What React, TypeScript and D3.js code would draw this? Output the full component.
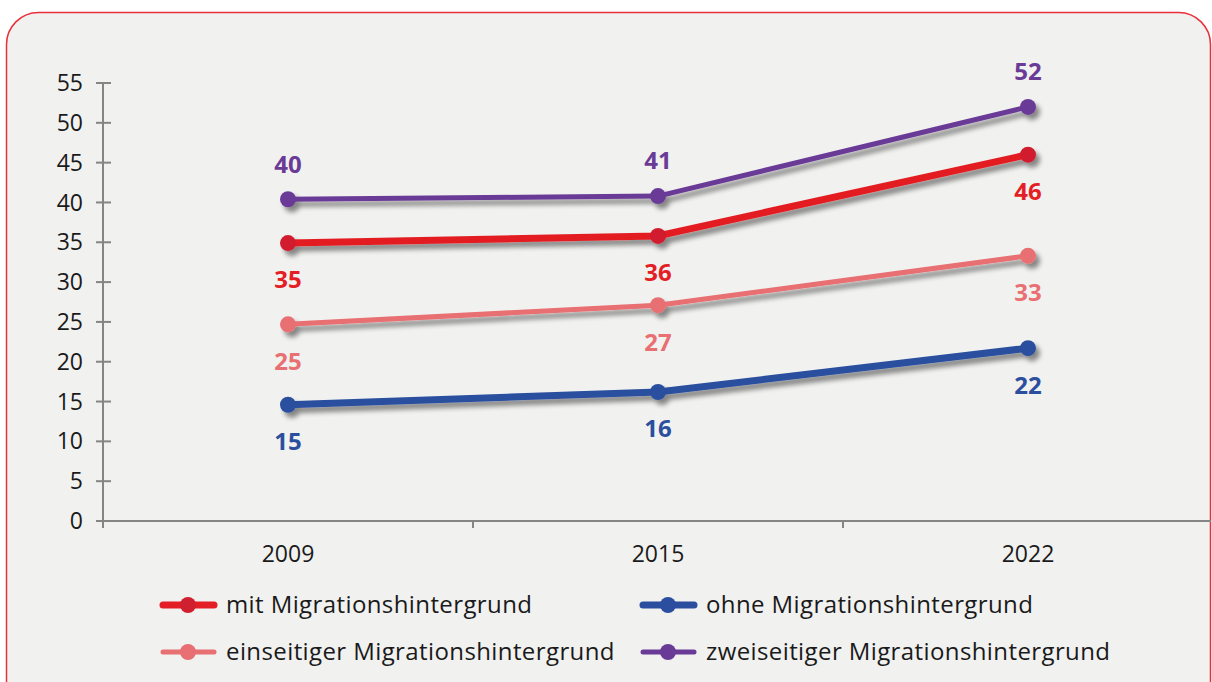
import React from "react";
import * as d3 from "d3";

const years = ["2009", "2015", "2022"];
const seriesNames = [
  "mit Migrationshintergrund",
  "ohne Migrationshintergrund",
  "einseitiger Migrationshintergrund",
  "zweiseitiger Migrationshintergrund",
];
const mitValues = [34.9, 35.8, 46];
const ohneValues = [14.6, 16.2, 21.7];
const einValues = [24.7, 27.1, 33.3];
const zweiValues = [40.4, 40.8, 52];
const mitLabels = ["35", "36", "46"];
const ohneLabels = ["15", "16", "22"];
const einLabels = ["25", "27", "33"];
const zweiLabels = ["40", "41", "52"];
const yTicks = [0, 5, 10, 15, 20, 25, 30, 35, 40, 45, 50, 55];

const FONT = "'Open Sans', 'Noto Sans', sans-serif";

export default function App() {
  const W = 1212, H = 682;
  const x = d3.scaleBand<string>().domain(years).range([103, 1213]);
  const y = d3.scaleLinear().domain([0, 55]).range([521, 83]);
  const line = d3
    .line<number>()
    .x((_, i) => (x(years[i]) as number) + x.bandwidth() / 2)
    .y((d) => y(d));

  const series = [
    { name: seriesNames[0], vals: mitValues, labels: mitLabels, color: "#e31e24", dot: "#d01f2e", width: 7, above: false },
    { name: seriesNames[1], vals: ohneValues, labels: ohneLabels, color: "#2b4f9e", dot: "#2b4f9e", width: 7, above: false },
    { name: seriesNames[2], vals: einValues, labels: einLabels, color: "#e86f72", dot: "#e86f72", width: 5, above: false },
    { name: seriesNames[3], vals: zweiValues, labels: zweiLabels, color: "#6a3b96", dot: "#6a3b96", width: 5, above: true },
  ];
  const drawOrder = [1, 2, 0, 3];

  const legendPos = [
    { x: 160, y: 605 },
    { x: 640, y: 605 },
    { x: 160, y: 652 },
    { x: 640, y: 652 },
  ];

  return (
    <svg width={W} height={H} style={{ position: "absolute", left: 0, top: 0, display: "block" }}>
      <defs>
        <filter id="sh" x="-20%" y="-50%" width="140%" height="200%">
          <feGaussianBlur in="SourceAlpha" stdDeviation="2.5" />
          <feOffset dx="4" dy="5" result="b" />
          <feComponentTransfer>
            <feFuncA type="linear" slope="0.45" />
          </feComponentTransfer>
          <feMerge>
            <feMergeNode />
            <feMergeNode in="SourceGraphic" />
          </feMerge>
        </filter>
      </defs>
      <rect x={0} y={0} width={W} height={H} fill="#ffffff" />
      <rect x={6.5} y={12.5} width={1204} height={720} rx={32} ry={32} fill="#f1f1f0" stroke="#e8303a" strokeWidth={1.5} />

      {/* y axis */}
      <line x1={103} x2={103} y1={y(55)} y2={y(0)} stroke="#858585" strokeWidth={2} />
      {yTicks.map((t) => (
        <g key={t}>
          <line x1={96} x2={111} y1={y(t)} y2={y(t)} stroke="#858585" strokeWidth={2} />
          <text x={83} y={y(t)} dy="0.35em" textAnchor="end" fontFamily={FONT} fontSize={23} fill="#1a1a1a">
            {t}
          </text>
        </g>
      ))}
      {/* x axis */}
      <line x1={96} x2={1211} y1={y(0)} y2={y(0)} stroke="#858585" strokeWidth={2} />
      {years.map((yr) => (
        <g key={yr}>
          <line x1={x(yr) as number} x2={x(yr) as number} y1={y(0)} y2={y(0) + 7} stroke="#858585" strokeWidth={2} />
          <text x={(x(yr) as number) + x.bandwidth() / 2} y={562} textAnchor="middle" fontFamily={FONT} fontSize={23} fill="#1a1a1a">
            {yr}
          </text>
        </g>
      ))}

      {drawOrder.map((si) => {
        const s = series[si];
        return (
          <g key={s.name} filter="url(#sh)">
            <path d={line(s.vals) || ""} fill="none" stroke={s.color} strokeWidth={s.width} strokeLinejoin="round" strokeLinecap="round" />
            {s.vals.map((v, i) => (
              <circle key={i} cx={(x(years[i]) as number) + x.bandwidth() / 2} cy={y(v)} r={8} fill={s.dot} />
            ))}
          </g>
        );
      })}
      {series.map((s) =>
        s.vals.map((v, i) => (
          <text
            key={s.name + i}
            x={(x(years[i]) as number) + x.bandwidth() / 2}
            y={y(v) + (s.above ? -35 : 37)}
            dy="0.35em"
            textAnchor="middle"
            fontFamily={FONT}
            fontWeight={700}
            fontSize={24}
            fill={s.color}
          >
            {s.labels[i]}
          </text>
        ))
      )}

      {series.map((s, i) => {
        const p = legendPos[i];
        return (
          <g key={s.name}>
            <line x1={p.x + 3} x2={p.x + 54} y1={p.y} y2={p.y} stroke={s.color} strokeWidth={s.width} strokeLinecap="round" />
            <circle cx={p.x + 28} cy={p.y} r={8} fill={s.dot} />
            <text x={p.x + 66} y={p.y} dy="0.35em" fontFamily={FONT} fontSize={24} letterSpacing={0.4} fill="#1a1a1a">
              {s.name}
            </text>
          </g>
        );
      })}
    </svg>
  );
}
